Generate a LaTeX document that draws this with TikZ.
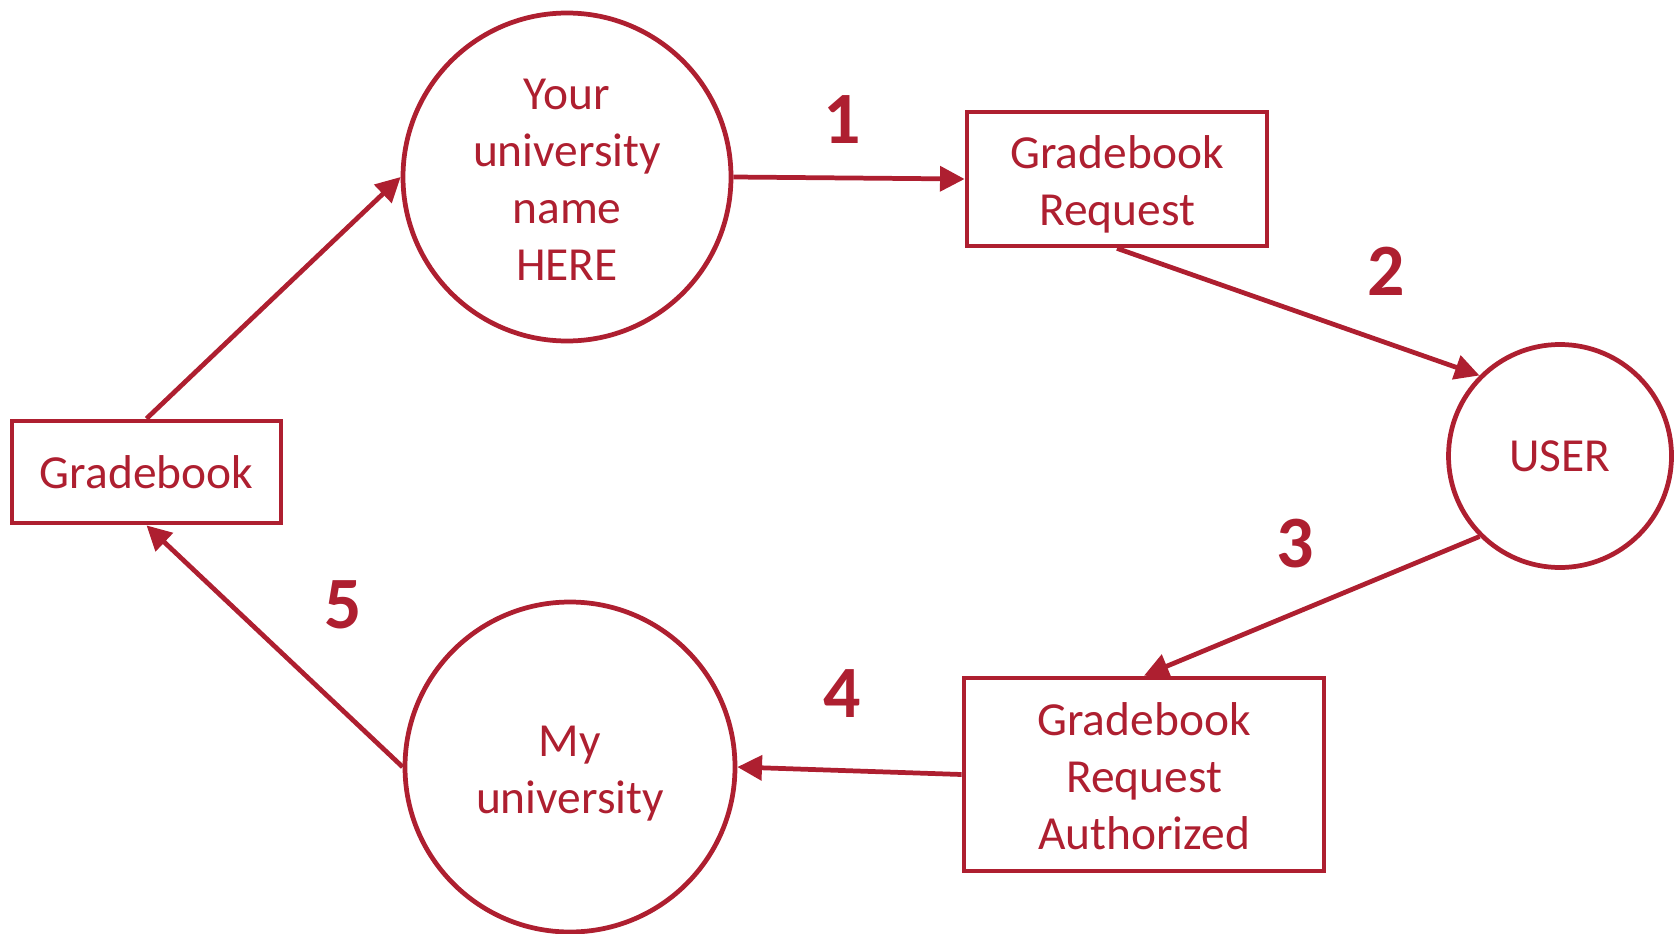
\documentclass[tikz,border=0pt]{standalone}
\usepackage{fontspec}
\setmainfont{Carlito}
\usepackage{tikz}
\usetikzlibrary{arrows.meta}
\definecolor{crimson}{HTML}{AE1F30}

% multi-line labels sit a little lower in their shapes
\newcommand{\lowtext}[1]{\raisebox{-0.13cm}[\height][\depth]{#1}}

\tikzset{
  flow/.style={draw=crimson, line width=2.7pt, -{Triangle[length=14pt,width=14pt]}},
  proc/.style={circle, draw=crimson, line width=2.7pt, text=crimson, inner sep=0pt},
  store/.style={rectangle, draw=crimson, line width=2.7pt, text=crimson, inner sep=0pt},
  num/.style={text=crimson, font=\fontsize{42}{42}\selectfont\bfseries}
}

\begin{document}
\begin{tikzpicture}[font=\fontsize{27}{32.6}\selectfont]
  \useasboundingbox (0,0) rectangle (33.6,-18.68);

  \node (A) [proc, minimum size=6.56cm] at (11.34, -3.54) {\lowtext{
    \begin{tabular}{c}
      Your \\ university \\ name \\ HERE
    \end{tabular}
  }};
  \node (B) [store, minimum width=6.0cm, minimum height=2.68cm] at (22.34, -3.58) {\lowtext{
    \begin{tabular}{c}
      Gradebook \\ Request
    \end{tabular}
  }};
  \node (C) [proc, minimum size=4.46cm] at (31.2, -9.12) {USER};
  \node (D) [store, minimum width=7.2cm, minimum height=3.86cm] at (22.88, -15.49) {\lowtext{
    \begin{tabular}{c}
      Gradebook \\ Request \\ Authorized
    \end{tabular}
  }};
  \node (E) [proc, minimum size=6.6cm] at (11.40, -15.34) {\lowtext{
    \begin{tabular}{c}
      My \\ university
    \end{tabular}
  }};
  \node (F) [store, minimum width=5.38cm, minimum height=2.04cm] at (2.93, -9.44) {Gradebook};

  \draw[flow] (A.east) to (B.west);
  \draw[flow] (B.south) to (C.north west);
  \draw[flow] (C.south west) to (D.north);
  \draw[flow] (D.west) to (E.east);
  \draw[flow] (E.west) to (F.south);
  \draw[flow] (F.north) to (A.west);

  \node (n1) [num] at (16.84, -2.40) {1};
  \node (n2) [num] at (27.72, -5.42) {2};
  \node (n3) [num] at (25.90, -10.88) {3};
  \node (n4) [num] at (16.84, -13.88) {4};
  \node (n5) [num] at (6.86, -12.10) {5};
\end{tikzpicture}
\end{document}
